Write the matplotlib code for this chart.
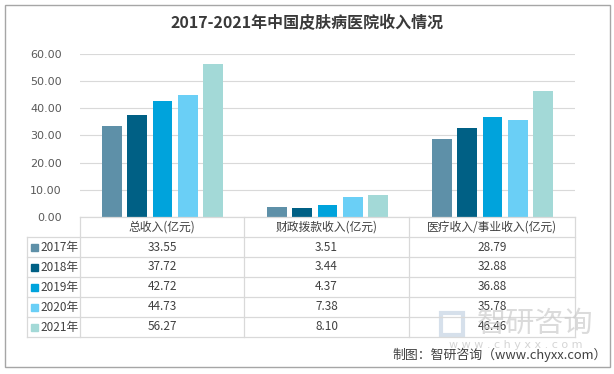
import matplotlib.pyplot as plt
import numpy as np
from matplotlib.patches import Rectangle

plt.rcParams['font.family'] = ['Noto Sans CJK SC', 'DejaVu Sans']

categories = ['总收入(亿元)', '财政拨款收入(亿元)', '医疗收入/事业收入(亿元)']
years = ['2017年', '2018年', '2019年', '2020年', '2021年']
values = {
    '2017年': [33.55, 3.51, 28.79],
    '2018年': [37.72, 3.44, 32.88],
    '2019年': [42.72, 4.37, 36.88],
    '2020年': [44.73, 7.38, 35.78],
    '2021年': [56.27, 8.10, 46.46],
}
colors = ['#5E90A8', '#006085', '#00A3DC', '#6ACFF6', '#A3D9D7']
yticks = [0, 10, 20, 30, 40, 50, 60]

W, H = 614, 374
fig = plt.figure(figsize=(W / 100, H / 100), dpi=100)

# plot area in pixel coords
x0, x1 = 80, 575
y_top, y_bot = 54, 217
ax = fig.add_axes([x0 / W, 1 - y_bot / H, (x1 - x0) / W, (y_bot - y_top) / H])

x = np.arange(len(categories))
offsets = np.array([-2, -1, 0, 1, 2]) * 0.153
for i, yr in enumerate(years):
    ax.bar(x + offsets[i], values[yr], width=0.121, color=colors[i], zorder=3)

ax.set_xlim(-0.5, 2.5)
ax.set_ylim(0, 60)
ax.set_yticks(yticks)
ax.set_yticklabels(['%.2f' % v for v in yticks], color='#595959', fontsize=8,
                   family='DejaVu Sans')
ax.set_xticks([])
ax.tick_params(axis='y', length=0, pad=13)
ax.grid(axis='y', color='#D9D9D9', lw=0.8, zorder=0)
for s in ax.spines.values():
    s.set_visible(False)

# overlay in pixel coords for table, title, border
ov = fig.add_axes([0, 0, 1, 1])
ov.set_xlim(0, W)
ov.set_ylim(H, 0)
ov.axis('off')
ov.patch.set_visible(False)

lc = '#D9D9D9'
col_edges = [x0, 244, 409, x1]
row_h = 20
t_left = 27
# horizontal lines
ov.plot([x0, x1], [y_bot, y_bot], color=lc, lw=0.9)
for r in range(1, 7):
    yy = y_bot + r * row_h
    ov.plot([t_left, x1], [yy, yy], color=lc, lw=0.9)
# vertical lines
ov.plot([t_left, t_left], [y_bot + row_h, y_bot + 6 * row_h], color=lc, lw=0.9)
for cx in col_edges:
    ov.plot([cx, cx], [y_bot, y_bot + 6 * row_h], color=lc, lw=0.9)

tc = '#404040'
for j, cat in enumerate(categories):
    cx = (col_edges[j] + col_edges[j + 1]) / 2
    ov.text(cx, y_bot + row_h / 2, cat, ha='center', va='center', fontsize=8.5, color=tc)
    for i, yr in enumerate(years):
        ov.text(cx, y_bot + row_h * (i + 1.5), '%.2f' % values[yr][j],
                ha='center', va='center', fontsize=8.5, color=tc)

for i, yr in enumerate(years):
    yy = y_bot + row_h * (i + 1.5)
    ov.add_patch(Rectangle((30.5, yy - 3.5), 7, 7, color=colors[i]))
    ov.text(40, yy, yr, ha='left', va='center', fontsize=8.5, color=tc)

# title
ov.text(307, 23, '2017-2021年中国皮肤病医院收入情况', ha='center', va='center',
        fontsize=11.5, color='#3A3A3A', fontweight='bold')

# watermark
ov.add_patch(Rectangle((441, 313), 22, 22, fill=False, ec='#C5D3E3', lw=3, alpha=0.7))
ov.text(535, 324, '智研咨询', ha='center', va='center', fontsize=21, color='#CCCCCC', alpha=0.7)
ov.text(516, 345, 'w w w . c h y x x . c o m', ha='center', va='center', fontsize=8,
        color='#D5D5D5', family='DejaVu Sans')

# source
ov.text(607, 355, '制图：智研咨询（www.chyxx.com）', ha='right', va='center',
        fontsize=9.3, color='#404040')

# border
ov.add_patch(Rectangle((4.5, 4.5), 605, 362.5, fill=False, ec='#A6A6A6', lw=1))

fig.savefig('out.png', dpi=100)
